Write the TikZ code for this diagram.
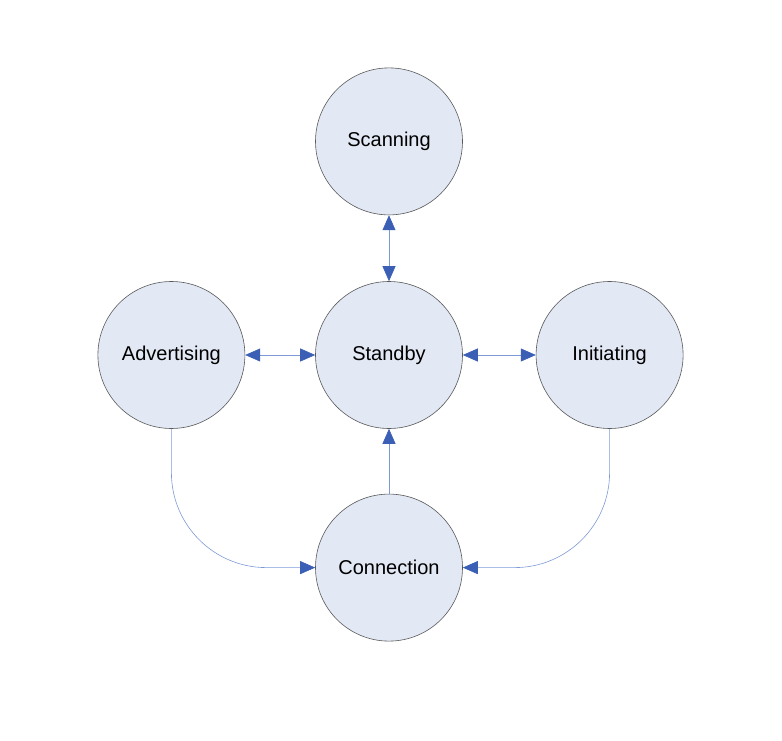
\documentclass[tikz,border=0pt]{standalone}
\usepackage{fontspec}
\setmainfont{Liberation Sans}
\usetikzlibrary{positioning,arrows.meta}
\definecolor{statefill}{HTML}{E2E8F4}
\definecolor{linkblue}{HTML}{7D99D6}
\definecolor{tipblue}{HTML}{3A5FB5}
\begin{document}
\begin{tikzpicture}[
      x=1pt, y=1pt,
      node distance=70pt,
      tip/.tip={Triangle[length=15pt,width=13pt,color=tipblue]},
      state/.style={circle, draw=black!65, line width=0.6pt, fill=statefill,
                    minimum size=147pt, inner sep=0pt, font=\fontsize{20}{24}\selectfont},
      link/.style={draw=linkblue, line width=0.6pt},
    ]
      \useasboundingbox (0,0) rectangle (782,-741);
      \node[state] (standby) at (389,-355) {Standby};
      \node[state, above = 66pt of standby] (scanning) {Scanning};
      \node[state, left = of standby] (advertising) {Advertising};
      \node[state, right = of standby, xshift=3pt] (initiating) {Initiating};
      \node[state, below = 65pt of standby] (connection) {Connection};

    \path[link]
        (scanning) edge[tip-tip] (standby)
        (advertising) edge[tip-tip] (standby)
        (standby) edge[tip-tip] (initiating)
        (connection) edge[-tip] (standby);
    \draw[link, -tip, rounded corners=95pt]
        (advertising.south) |- (connection.west);
    \draw[link, -tip, rounded corners=95pt]
        (initiating.south) |- (connection.east);
      \end{tikzpicture}
\end{document}
